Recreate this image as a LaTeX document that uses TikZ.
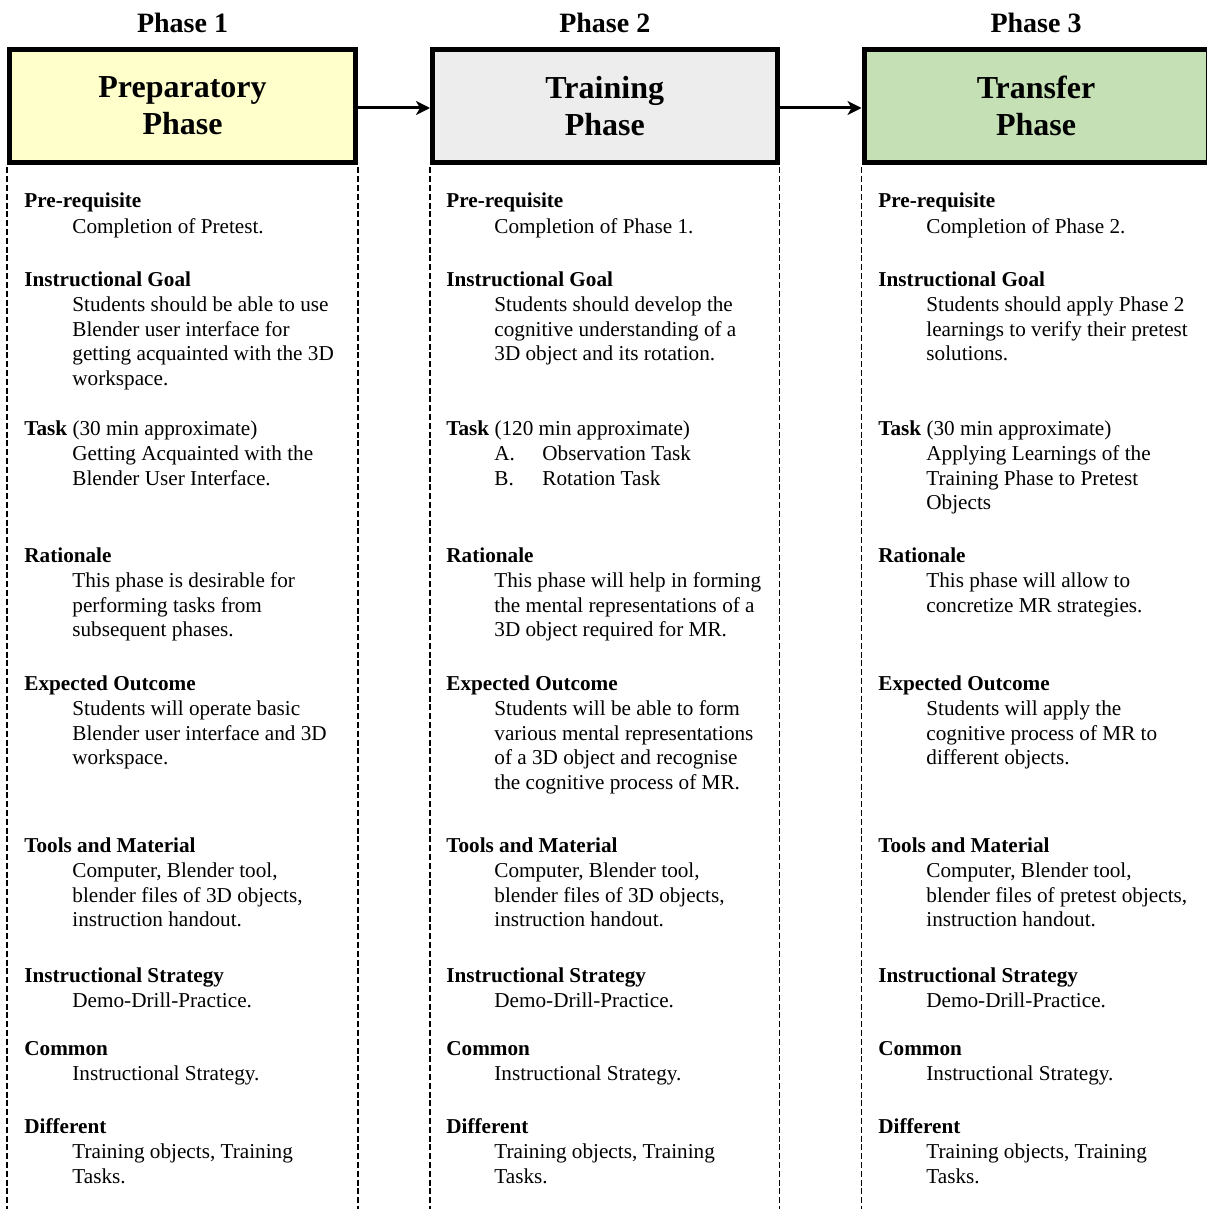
\documentclass[tikz,border=0pt]{standalone}
\usepackage{fontspec}
\setmainfont{Liberation Serif}
\usetikzlibrary{arrows.meta}
\definecolor{boxyellow}{HTML}{FFFFCC}
\definecolor{boxgray}{HTML}{EDEDED}
\definecolor{boxgreen}{HTML}{C5E0B4}
\tikzset{
  phasebox/.style={draw, line width=2.5pt, minimum height=56.5pt, inner sep=0pt,
    align=center, font=\fontsize{16}{18.5}\selectfont\bfseries},
  phaselabel/.style={anchor=base, inner sep=0pt, font=\fontsize{14}{16}\selectfont\bfseries},
  flow/.style={line width=1.5pt, -{Stealth[length=7pt,width=7pt,inset=2pt]}},
  dashline/.style={line width=0.8pt, dash pattern=on 3pt off 1.4pt},
  headtxt/.style={anchor=base west, inner sep=0pt, font=\fontsize{10.6}{12.35}\selectfont\bfseries},
  bodytxt/.style={anchor=base west, inner sep=0pt, font=\fontsize{10.6}{12.35}\selectfont},
}
\newcommand\textlines[1]{\begin{tabular}[t]{@{}l@{}}#1\end{tabular}}
\newcommand\sect[5]{%
  \node[headtxt] (#1h) at (#2,#3) {#4};
  \node[bodytxt] (#1b) at ({#2+48},{#3+25.5}) {\textlines{#5}};
}
\begin{document}
\begin{tikzpicture}[x={(0.5pt,0)}, y={(0,-0.5pt)}]
\useasboundingbox (0,0) rectangle (1206,1209);
\coordinate (bot) at (0,1215);

% phase labels
\node[phaselabel] (l1) at (182.5,33) {Phase 1};
\node[phaselabel] (l2) at (604.75,33) {Phase 2};
\node[phaselabel] (l3) at (1036,33) {Phase 3};

% phase boxes
\node[phasebox, fill=boxyellow, minimum width=173pt] (b1) at (182.5,106) {Preparatory\\Phase};
\node[phasebox, fill=boxgray, minimum width=172.25pt] (b2) at (604.75,106) {Training\\Phase};
\node[phasebox, fill=boxgreen, minimum width=172pt] (b3) at (1036,106) {Transfer\\Phase};

% arrows
\draw[flow] ([yshift=-1pt]b1.east) -- ([yshift=-1pt]b2.west);
\draw[flow] ([yshift=-1pt]b2.east) -- ([yshift=-1pt]b3.west);

% dashed guides
\draw[dashline] ([yshift=-1.25pt]b1.south west) -- (b1.south west |- bot);
\draw[dashline] ([yshift=-1.25pt]b1.south east) -- (b1.south east |- bot);
\draw[dashline] ([yshift=-1.25pt]b2.south west) -- (b2.south west |- bot);
\draw[dashline] ([yshift=-1.25pt]b2.south east) -- (b2.south east |- bot);
\draw[dashline] ([yshift=-1.25pt]b3.south west) -- (b3.south west |- bot);

% column 1
\sect{a1}{24}{208}{Pre-requisite}{Completion of Pretest.}
\sect{a2}{24}{286}{Instructional Goal}{Students should be able to use\\Blender user interface for\\getting acquainted with the 3D\\workspace.}
\sect{a3}{24}{435}{Task \mdseries(30 min approximate)}{Getting Acquainted with the\\Blender User Interface.}
\sect{a4}{24}{562}{Rationale}{This phase is desirable for\\performing tasks from\\subsequent phases.}
\sect{a5}{24}{690}{Expected Outcome}{Students will operate basic\\Blender user interface and 3D\\workspace.}
\sect{a6}{24}{852}{Tools and Material}{Computer, Blender tool,\\blender files of 3D objects,\\instruction handout.}
\sect{a7}{24}{982}{Instructional Strategy}{Demo-Drill-Practice.}
\sect{a8}{24}{1055}{Common}{Instructional Strategy.}
\sect{a9}{24}{1133}{Different}{Training objects, Training\\Tasks.}

% column 2
\sect{b1s}{446}{208}{Pre-requisite}{Completion of Phase 1.}
\sect{b2s}{446}{286}{Instructional Goal}{Students should develop the\\cognitive understanding of a\\3D object and its rotation.}
\sect{b3s}{446}{435}{Task \mdseries(120 min approximate)}{\makebox[24pt][l]{A.}Observation Task\\\makebox[24pt][l]{B.}Rotation Task}
\sect{b4s}{446}{562}{Rationale}{This phase will help in forming\\the mental representations of a\\3D object required for MR.}
\sect{b5s}{446}{690}{Expected Outcome}{Students will be able to form\\various mental representations\\of a 3D object and recognise\\the cognitive process of MR.}
\sect{b6s}{446}{852}{Tools and Material}{Computer, Blender tool,\\blender files of 3D objects,\\instruction handout.}
\sect{b7s}{446}{982}{Instructional Strategy}{Demo-Drill-Practice.}
\sect{b8s}{446}{1055}{Common}{Instructional Strategy.}
\sect{b9s}{446}{1133}{Different}{Training objects, Training\\Tasks.}

% column 3
\sect{c1s}{878}{208}{Pre-requisite}{Completion of Phase 2.}
\sect{c2s}{878}{286}{Instructional Goal}{Students should apply Phase 2\\learnings to verify their pretest\\solutions.}
\sect{c3s}{878}{435}{Task \mdseries(30 min approximate)}{Applying Learnings of the\\Training Phase to Pretest\\Objects}
\sect{c4s}{878}{562}{Rationale}{This phase will allow to\\concretize MR strategies.}
\sect{c5s}{878}{690}{Expected Outcome}{Students will apply the\\cognitive process of MR to\\different objects.}
\sect{c6s}{878}{852}{Tools and Material}{Computer, Blender tool,\\blender files of pretest objects,\\instruction handout.}
\sect{c7s}{878}{982}{Instructional Strategy}{Demo-Drill-Practice.}
\sect{c8s}{878}{1055}{Common}{Instructional Strategy.}
\sect{c9s}{878}{1133}{Different}{Training objects, Training\\Tasks.}
\end{tikzpicture}
\end{document}
